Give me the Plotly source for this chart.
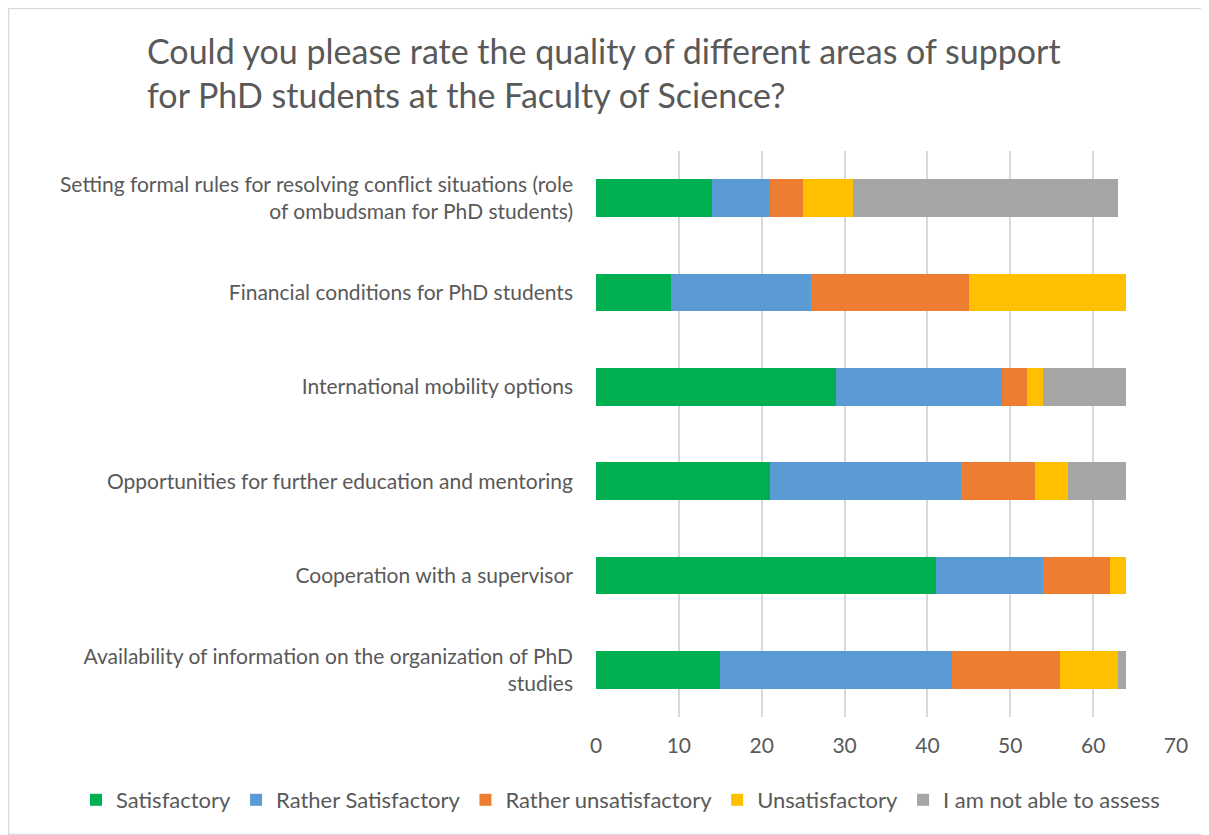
import plotly.graph_objects as go

categories = [
    "Setting formal rules for resolving conflict situations (role<br>of ombudsman for PhD students)",
    "Financial conditions for PhD students",
    "International mobility options",
    "Opportunities for further education and mentoring",
    "Cooperation with a supervisor",
    "Availability of information on the organization of PhD<br>studies",
]
series_names = ["Satisfactory", "Rather Satisfactory", "Rather unsatisfactory",
                "Unsatisfactory", "I am not able to assess"]
satisfactory = [14, 9, 29, 21, 41, 15]
rather_satisfactory = [7, 17, 20, 23, 13, 28]
rather_unsatisfactory = [4, 19, 3, 9, 8, 13]
unsatisfactory = [6, 19, 2, 4, 2, 7]
not_able = [32, 0, 10, 7, 0, 1]
colors = ["#00B050", "#5B9BD5", "#ED7D31", "#FFC000", "#A5A5A5"]
x_ticks = [0, 10, 20, 30, 40, 50, 60, 70]

values = [satisfactory, rather_satisfactory, rather_unsatisfactory, unsatisfactory, not_able]

# page body has an 8px margin; figure coordinates are screen - 8
W, H = 1201, 827
L, R, T, B = 588, 33, 143, 118
GW, GH = W - L - R, H - T - B

fig = go.Figure()
for name, vals, col in zip(series_names, values, colors):
    fig.add_trace(go.Bar(
        y=categories, x=vals, name=name, orientation="h",
        marker=dict(color=col, line=dict(width=0)),
        hoverinfo="x+name",
    ))

font_fam = "Lato, Carlito, 'Open Sans', sans-serif"
fig.update_layout(
    width=W, height=H,
    barmode="stack", bargap=0.6,
    plot_bgcolor="white", paper_bgcolor="white",
    margin=dict(l=L, r=R, t=T, b=B, autoexpand=False),
    font=dict(family=font_fam, color="#595959", size=21),
    xaxis=dict(
        range=[0, 70], tickvals=x_ticks, showgrid=True,
        gridcolor="#D9D9D9", gridwidth=1.5, zeroline=False,
        showline=False, ticks="", tickfont=dict(size=21, color="#595959"),
        ticklabelstandoff=14, fixedrange=True,
    ),
    yaxis=dict(
        autorange="reversed", showgrid=False, zeroline=False, showline=False,
        ticks="", ticklabelstandoff=22, tickfont=dict(size=21, color="#595959"),
    ),
    legend=dict(
        orientation="h", xref="paper", x=(68 - L) / GW, xanchor="left",
        yref="paper", y=-(792 - (T + GH)) / GH, yanchor="middle",
        font=dict(size=22, color="#595959"), traceorder="normal",
        itemwidth=30,
    ),
    annotations=[dict(
        text="Could you please rate the quality of different areas of support<br>for PhD students at the Faculty of Science?",
        xref="paper", yref="paper",
        x=(137 - L) / GW, xanchor="left",
        y=1 + (T - 20) / GH, yanchor="top",
        align="left", showarrow=False,
        font=dict(size=34, color="#595959", family=font_fam),
    )],
    shapes=[dict(
        type="rect", xref="paper", yref="paper",
        x0=(0.5 - L) / GW, x1=(W - 4 - L) / GW,
        y0=-(B - 0.5) / GH, y1=1 + (T - 0.5) / GH,
        line=dict(color="#D9D9D9", width=1.5), fillcolor="rgba(0,0,0,0)",
        layer="below",
    )],
)

fig.write_html("out.html")
